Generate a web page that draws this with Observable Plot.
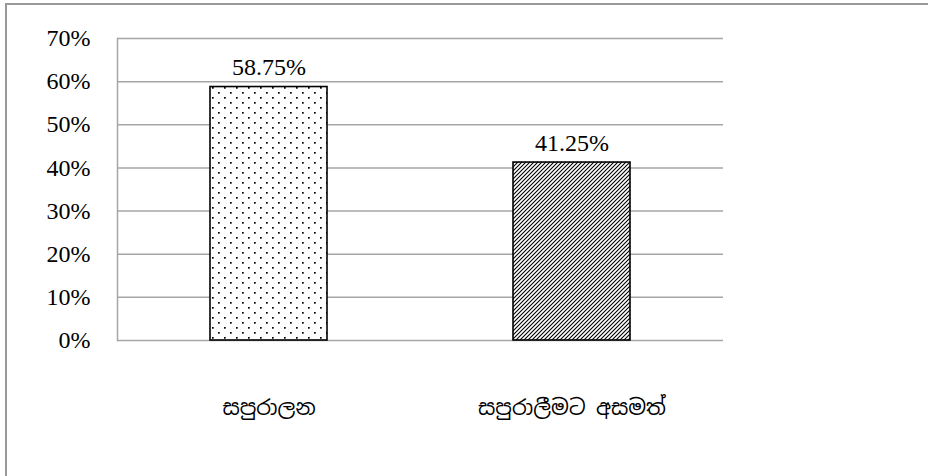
<!DOCTYPE html>
<html>
<head>
<meta charset="utf-8">
<script src="https://cdn.jsdelivr.net/npm/d3@7"></script>
<script src="https://cdn.jsdelivr.net/npm/@observablehq/plot@0.6"></script>
<style>
  html, body { margin: 0; padding: 0; background: #fff; overflow: hidden; }
  #wrap { position: relative; width: 928px; height: 476px; }
  #border { position: absolute; left: 5px; top: 3px; width: 1000px; height: 1000px;
            border-top: 2px solid #999; border-left: 2px solid #999; box-sizing: border-box; }
  #chart { position: absolute; left: 0; top: 0; }
</style>
</head>
<body>
<div id="wrap"><div id="border"></div><div id="chart"></div></div>
<script>
const categories = ["සපුරාලන", "සපුරාලීමට අසමත්"];
const values = [58.75, 41.25];
const patterns = ["dots", "hatch"];
const yTicks = [0, 10, 20, 30, 40, 50, 60, 70];

const data = categories.map((c, i) => ({category: c, value: values[i], pattern: `url(#${patterns[i]})`}));

const serif = "'Liberation Serif', 'Times New Roman', serif";
const sinhala = "'Iskoola Pota', 'Noto Sans Sinhala', 'Noto Serif Sinhala', 'Liberation Serif', serif";

const svg = Plot.plot({
  width: 928,
  height: 476,
  marginTop: 38,
  marginBottom: 136,
  marginLeft: 117,
  marginRight: 205,
  style: {fontFamily: serif, background: "transparent", color: "#000"},
  x: {domain: categories, padding: 0},
  y: {domain: [0, 70]},
  color: {type: "identity"},
  marks: [
    Plot.ruleY(yTicks, {stroke: "#a6a6a6", strokeWidth: 1.5}),
    Plot.frame({anchor: "left", stroke: "#a6a6a6", strokeWidth: 1.5}),
    Plot.barY(data, {x: "category", y: "value", fill: "pattern", stroke: "#000", strokeWidth: 1.6, insetLeft: 93, insetRight: 93}),
    Plot.text(data, {x: "category", y: "value", text: d => d.value.toFixed(2) + "%", lineAnchor: "bottom", dy: -12, fontSize: 24, fontFamily: serif, fill: "#000"}),
    Plot.axisY({ticks: yTicks, tickSize: 0, tickPadding: 27, tickFormat: d => d + "%", fontSize: 24, fontFamily: serif, label: null}),
    Plot.axisX({tickSize: 0, tickPadding: 60, fontSize: 21, fontFamily: sinhala, label: null})
  ]
});

d3.select(svg).insert("defs", ":first-child").html(`
  <pattern id="dots" patternUnits="userSpaceOnUse" width="12" height="10">
    <rect width="12" height="10" fill="#fff"/>
    <rect x="2" y="2" width="1.7" height="1.7" fill="#000"/>
    <rect x="8" y="7" width="1.7" height="1.7" fill="#000"/>
  </pattern>
  <pattern id="hatch" patternUnits="userSpaceOnUse" width="4" height="4">
    <rect width="4" height="4" fill="#fff"/>
    <path d="M-1,1 l2,-2 M0,4 l4,-4 M3,5 l2,-2" stroke="#000" stroke-width="1.1"/>
  </pattern>
`);

document.getElementById("chart").appendChild(svg);
</script>
</body>
</html>
